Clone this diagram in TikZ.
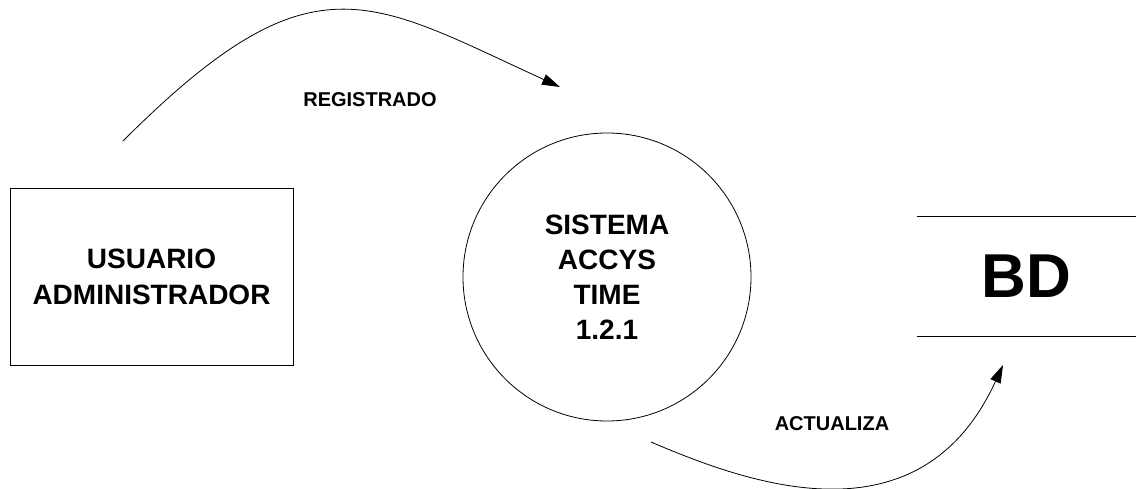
\documentclass[tikz,border=0pt]{standalone}
\usepackage{fontspec}
\setmainfont{Liberation Sans}
\usetikzlibrary{arrows.meta}

\begin{document}
\begin{tikzpicture}[x=1pt,y=-1pt,>={Triangle[length=18pt,width=11pt]},line width=0.8pt,
                    main text/.style={font=\bfseries\fontsize{28}{36}\selectfont,align=center},
                    flow label/.style={font=\bfseries\fontsize{20}{24}\selectfont}]
  \useasboundingbox (0,0) rectangle (1136,489);
  \node[draw,main text,minimum width=283pt,minimum height=177pt] (usuario) at (151.5,276.5) {USUARIO\\ADMINISTRADOR};
  \node[draw,circle,main text,minimum size=288pt,font=\bfseries\fontsize{28}{35}\selectfont] (sistema) at (607,277) {SISTEMA\\ACCYS\\TIME\\1.2.1};
  \node[minimum width=219pt,minimum height=119pt,font=\bfseries\fontsize{62}{70}\selectfont] (bd) at (1026.5,276.5) {BD};
  \draw (bd.north west) -- (bd.north east)
        (bd.south west) -- (bd.south east);
  % flujos
  \coordinate (reg start) at (123,141);
  \coordinate (reg end) at (560,87);
  \coordinate (act start) at (651,442);
  \coordinate (act end) at (1003,365);
  \draw[->] (reg start) .. controls (312,-48) and (368,-1) .. (reg end);
  \draw[->] (act start) .. controls (749,484) and (920,546) .. (act end);
  \node[flow label] (registrado) at (370,100) {REGISTRADO};
  \node[flow label] (actualiza) at (832,424) {ACTUALIZA};
\end{tikzpicture}
\end{document}
